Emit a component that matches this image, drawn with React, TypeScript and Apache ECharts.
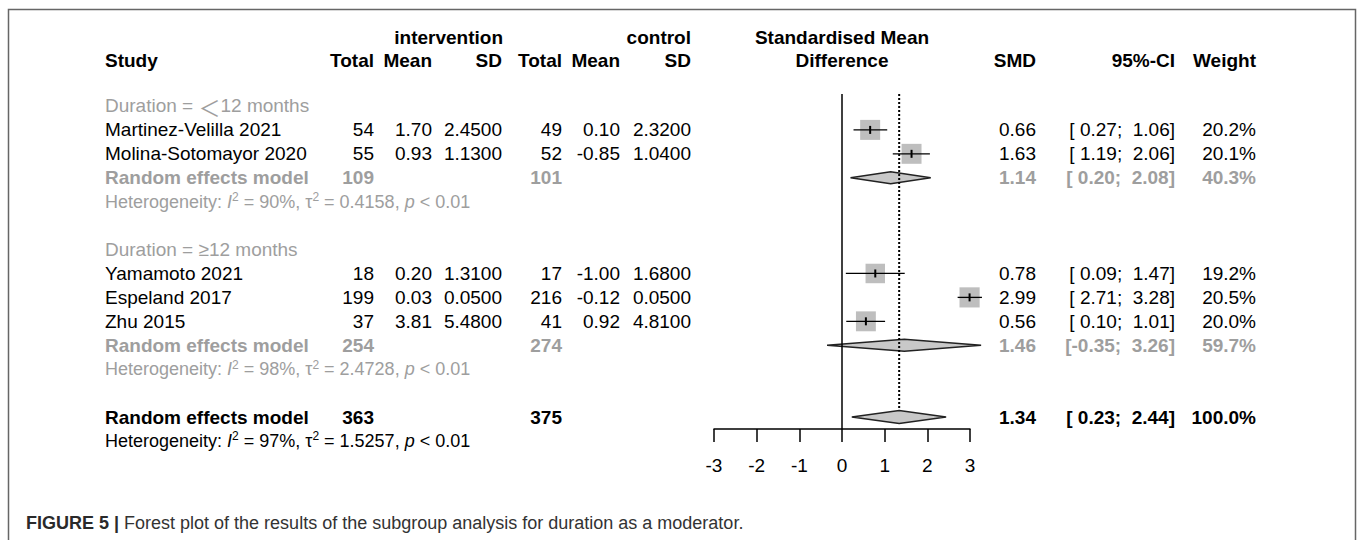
import React, { useEffect, useRef } from "react";
import * as echarts from "echarts";

const FONT = '"Liberation Sans", Arial, Helvetica, sans-serif';
const GRAY = "#9e9e9e";

// Studies
const studyNames = ["Martinez-Velilla 2021", "Molina-Sotomayor 2020", "Yamamoto 2021", "Espeland 2017", "Zhu 2015"];
const studyRows = [1, 2, 7, 8, 9];
const intTotal = [54, 55, 18, 199, 37];
const intMean = [1.7, 0.93, 0.2, 0.03, 3.81];
const intSD = [2.45, 1.13, 1.31, 0.05, 5.48];
const ctrlTotal = [49, 52, 17, 216, 41];
const ctrlMean = [0.1, -0.85, -1.0, -0.12, 0.92];
const ctrlSD = [2.32, 1.04, 1.68, 0.05, 4.81];
const smd = [0.66, 1.63, 0.78, 2.99, 0.56];
const ciLow = [0.27, 1.19, 0.09, 2.71, 0.1];
const ciHigh = [1.06, 2.06, 1.47, 3.28, 1.01];
const weights = [20.2, 20.1, 19.2, 20.5, 20.0];

// Subgroups
const groupPrefix = "Duration = ";
const groupSymbols = ["\uFF1C", "\u2265"];
const groupSuffix = "12 months";
const groupLabelRows = [0, 6];
const groupModelRows = [3, 10];
const groupHetRows = [4, 11];
const groupIntTotal = [109, 254];
const groupCtrlTotal = [101, 274];
const groupSmd = [1.14, 1.46];
const groupLow = [0.2, -0.35];
const groupHigh = [2.08, 3.26];
const groupWeight = [40.3, 59.7];
const groupI2 = [90, 98];
const groupTau2 = ["0.4158", "2.4728"];

// Overall
const overallRow = 13;
const overallHetRow = 14;
const overallIntTotal = 363;
const overallCtrlTotal = 375;
const overallSmd = 1.34;
const overallLow = 0.23;
const overallHigh = 2.44;
const overallWeight = 100.0;
const overallI2 = 97;
const overallTau2 = "1.5257";

const xTicks = [-3, -2, -1, 0, 1, 2, 3];

const fmtCI = (lo: number, hi: number) => {
  const l = lo < 0 ? lo.toFixed(2) : " " + lo.toFixed(2);
  const h = hi < 0 ? hi.toFixed(2) : " " + hi.toFixed(2);
  return `[${l}; ${h}]`;
};

export default function App() {
  const ref = useRef<HTMLDivElement>(null);
  useEffect(() => {
    document.body.style.margin = "0";
    const chart = echarts.init(ref.current!, null, { renderer: "svg" });

    const studyData = smd.map((s, i) => [s, ciLow[i], ciHigh[i], studyRows[i], weights[i]]);
    const diamondData = [
      ...groupSmd.map((s, i) => [s, groupLow[i], groupHigh[i], groupModelRows[i], 0]),
      [overallSmd, overallLow, overallHigh, overallRow, 1],
    ];

    chart.setOption({
      animation: false,
      grid: [{ left: 714, right: 390, top: 94, bottom: 111 }],
      xAxis: {
        type: "value",
        min: xTicks[0],
        max: xTicks[xTicks.length - 1],
        interval: 1,
        axisLine: { show: true, onZero: false, lineStyle: { color: "#000", width: 1.5 } },
        axisTick: { show: true, length: 13, lineStyle: { color: "#000", width: 1.5 } },
        axisLabel: { color: "#000", fontSize: 19, fontFamily: FONT, margin: 27 },
        splitLine: { show: false },
      },
      yAxis: { type: "value", min: -0.5, max: 13.5, inverse: true, show: false },
      series: [
        {
          type: "line",
          data: [[0, -0.5], [0, 13.5]],
          symbol: "none",
          silent: true,
          lineStyle: { color: "#000", width: 1.5 },
        },
        {
          type: "custom",
          data: studyData,
          encode: { x: [0, 1, 2], y: 3 },
          silent: true,
          renderItem: (params: any, api: any) => {
            const y = api.coord([0, api.value(3)])[1];
            const xe = api.coord([api.value(0), 0])[0];
            const xl = api.coord([api.value(1), 0])[0];
            const xh = api.coord([api.value(2), 0])[0];
            const size = 20 * Math.sqrt(api.value(4) / 20.2);
            return {
              type: "group",
              children: [
                { type: "rect", shape: { x: xe - size / 2, y: y - size / 2, width: size, height: size }, style: { fill: "#bebebe" } },
                { type: "line", shape: { x1: xl, y1: y, x2: xh, y2: y }, style: { stroke: "#000", lineWidth: 1.3 } },
                { type: "line", shape: { x1: xe, y1: y - 4, x2: xe, y2: y + 4 }, style: { stroke: "#000", lineWidth: 2 } },
              ],
            };
          },
        },
        {
          type: "custom",
          data: diamondData,
          encode: { x: [0, 1, 2], y: 3 },
          silent: true,
          renderItem: (params: any, api: any) => {
            const y = api.coord([0, api.value(3)])[1];
            const xe = api.coord([api.value(0), 0])[0];
            const xl = api.coord([api.value(1), 0])[0];
            const xh = api.coord([api.value(2), 0])[0];
            const h = api.value(4) ? 6.5 : 6;
            return {
              type: "polygon",
              shape: { points: [[xl, y], [xe, y - h], [xh, y], [xe, y + h]] },
              style: { fill: "#c8c8c8", stroke: "#222", lineWidth: 1.5 },
            };
          },
        },
        {
          type: "line",
          data: [[overallSmd, -0.5], [overallSmd, 12.7]],
          symbol: "none",
          silent: true,
          lineStyle: { color: "#000", width: 2, type: [2, 2] },
        },
      ],
    });

    const rowY = (k: number) => (chart.convertToPixel({ gridIndex: 0 }, [0, k]) as number[])[1];

    const elements: any[] = [];
    const txt = (x: number, y: number, text: string, align: string, opts: any = {}) => {
      elements.push({
        type: "text",
        x,
        y,
        silent: true,
        style: {
          text,
          fill: opts.color || "#000",
          fontSize: opts.size || 19,
          fontWeight: opts.bold ? "bold" : "normal",
          fontFamily: FONT,
          align,
          verticalAlign: "middle",
        },
      });
    };
    const het = (y: number, i2: number, tau2: string, color: string) => {
      const base = { fill: color, fontSize: 18, fontFamily: FONT };
      elements.push({
        type: "text",
        x: 105,
        y,
        silent: true,
        style: {
          text: `{a|Heterogeneity: }{i|I}{s|2}{a| = ${i2}%, \u03C4}{s|2}{a| = ${tau2}, }{i|p}{a| < 0.01}`,
          fill: color,
          fontSize: 18,
          fontFamily: FONT,
          align: "left",
          verticalAlign: "middle",
          rich: {
            a: { ...base },
            i: { ...base, fontStyle: "italic" },
            s: { ...base, fontSize: 12, padding: [0, 0, 9, 0] },
          },
        },
      });
    };

    // Frame
    elements.push({
      type: "rect",
      shape: { x: 8.5, y: 9.5, width: 1347, height: 600 },
      style: { fill: "none", stroke: "#666", lineWidth: 1.5 },
      silent: true,
    });

    // Headers
    txt(503, 37, "intervention", "right", { bold: true });
    txt(691, 37, "control", "right", { bold: true });
    txt(842, 37, "Standardised Mean", "center", { bold: true });
    txt(105, 60, "Study", "left", { bold: true });
    txt(374, 60, "Total", "right", { bold: true });
    txt(432, 60, "Mean", "right", { bold: true });
    txt(502, 60, "SD", "right", { bold: true });
    txt(562, 60, "Total", "right", { bold: true });
    txt(620, 60, "Mean", "right", { bold: true });
    txt(691, 60, "SD", "right", { bold: true });
    txt(842, 60, "Difference", "center", { bold: true });
    txt(1036, 60, "SMD", "right", { bold: true });
    txt(1175, 60, "95%-CI", "right", { bold: true });
    txt(1256, 60, "Weight", "right", { bold: true });

    // Studies
    studyNames.forEach((name, i) => {
      const y = rowY(studyRows[i]);
      txt(105, y, name, "left");
      txt(374, y, String(intTotal[i]), "right");
      txt(432, y, intMean[i].toFixed(2), "right");
      txt(502, y, intSD[i].toFixed(4), "right");
      txt(562, y, String(ctrlTotal[i]), "right");
      txt(620, y, ctrlMean[i].toFixed(2), "right");
      txt(691, y, ctrlSD[i].toFixed(4), "right");
      txt(1036, y, smd[i].toFixed(2), "right");
      txt(1175, y, fmtCI(ciLow[i], ciHigh[i]), "right");
      txt(1256, y, weights[i].toFixed(1) + "%", "right");
    });

    // Subgroups
    groupSymbols.forEach((sym, i) => {
      const base = { fill: GRAY, fontSize: 19, fontFamily: FONT };
      elements.push({
        type: "text",
        x: 105,
        y: rowY(groupLabelRows[i]),
        silent: true,
        style: {
          text: `{a|${groupPrefix}}{b|${sym}}{a|${groupSuffix}}`,
          fill: GRAY,
          fontSize: 19,
          fontFamily: FONT,
          align: "left",
          verticalAlign: "middle",
          rich: {
            a: { ...base },
            b: i === 0 ? { ...base, fontSize: 22, fontFamily: '"Noto Sans CJK SC", "Liberation Sans", sans-serif' } : { ...base },
          },
        },
      });
      const y = rowY(groupModelRows[i]);
      txt(105, y, "Random effects model", "left", { color: GRAY, bold: true });
      txt(374, y, String(groupIntTotal[i]), "right", { color: GRAY, bold: true });
      txt(562, y, String(groupCtrlTotal[i]), "right", { color: GRAY, bold: true });
      txt(1036, y, groupSmd[i].toFixed(2), "right", { color: GRAY, bold: true });
      txt(1175, y, fmtCI(groupLow[i], groupHigh[i]), "right", { color: GRAY, bold: true });
      txt(1256, y, groupWeight[i].toFixed(1) + "%", "right", { color: GRAY, bold: true });
      het(rowY(groupHetRows[i]), groupI2[i], groupTau2[i], GRAY);
    });

    // Overall
    const yo = rowY(overallRow);
    txt(105, yo, "Random effects model", "left", { bold: true });
    txt(374, yo, String(overallIntTotal), "right", { bold: true });
    txt(562, yo, String(overallCtrlTotal), "right", { bold: true });
    txt(1036, yo, overallSmd.toFixed(2), "right", { bold: true });
    txt(1175, yo, fmtCI(overallLow, overallHigh), "right", { bold: true });
    txt(1256, yo, overallWeight.toFixed(1) + "%", "right", { bold: true });
    het(rowY(overallHetRow), overallI2, overallTau2, "#000");

    // Caption
    elements.push({
      type: "text",
      x: 26,
      y: 523,
      silent: true,
      style: {
        text: "{b|FIGURE 5 |}{n| Forest plot of the results of the subgroup analysis for duration as a moderator.}",
        fill: "#333",
        fontSize: 18,
        fontFamily: FONT,
        align: "left",
        verticalAlign: "middle",
        rich: {
          b: { fill: "#2a2a2a", fontSize: 18, fontFamily: FONT, fontWeight: "bold" },
          n: { fill: "#333", fontSize: 18, fontFamily: FONT },
        },
      },
    });

    chart.setOption({ graphic: { elements } });
    return () => chart.dispose();
  }, []);
  return <div ref={ref} style={{ width: 1360, height: 540 }} />;
}
